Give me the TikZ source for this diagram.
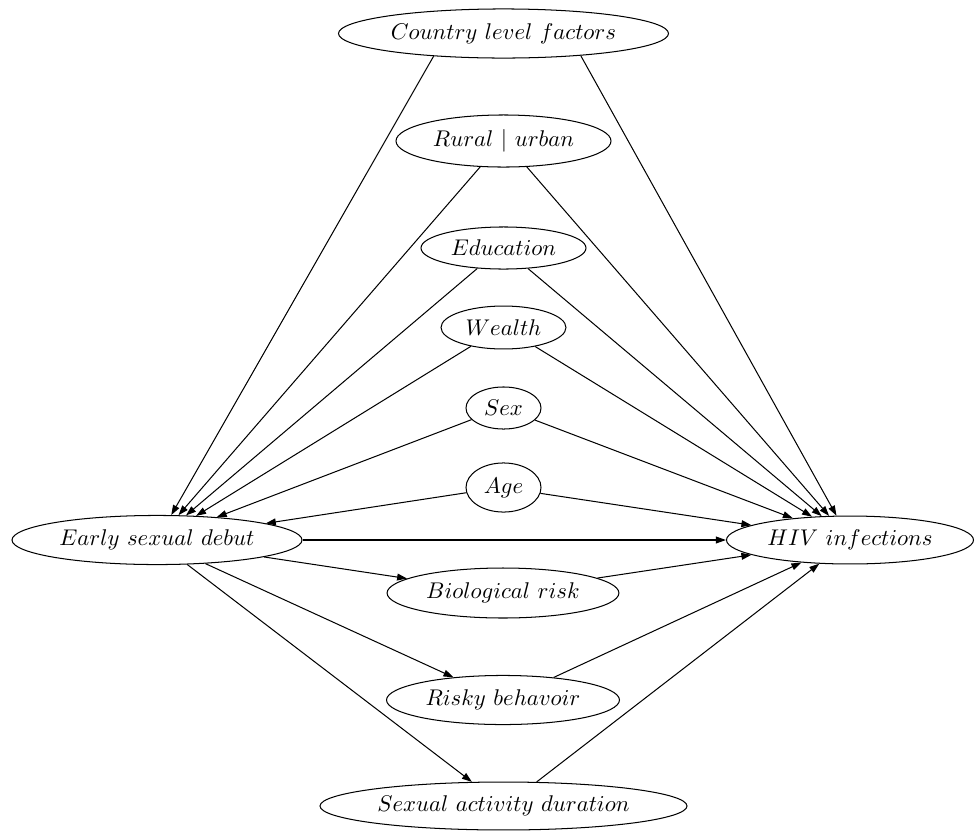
\documentclass[tikz,border=0pt]{standalone}
\usetikzlibrary{arrows.meta,shapes.geometric}
\begin{document}
\begin{tikzpicture}[x=0.44pt,y=-0.44pt,
  var/.style={draw,ellipse,inner sep=0pt,line width=0.45pt},
  edge/.style={-{Triangle[length=4.4pt,width=3pt]},line width=0.45pt}]
\useasboundingbox (0,0) rectangle (976,830);
\node[var,minimum width=145.2pt,minimum height=21.6pt] (country) at (503.5,33.5) {$Country\ level\ factors$};
\node[var,minimum width=94.6pt,minimum height=22.9pt] (rural) at (503.5,141) {$Rural\ |\ urban$};
\node[var,minimum width=72.6pt,minimum height=18.5pt] (edu) at (503.5,248) {$Education$};
\node[var,minimum width=55pt,minimum height=18.9pt] (wealth) at (503.5,327.5) {$Wealth$};
\node[var,minimum width=33pt,minimum height=18.5pt] (sex) at (503.5,408) {$Sex$};
\node[var,minimum width=33pt,minimum height=21.6pt] (age) at (503.5,487.5) {$Age$};
\node[var,minimum width=127.6pt,minimum height=21.6pt] (early) at (157,540) {$Early\ sexual\ debut$};
\node[var,minimum width=108.7pt,minimum height=21.1pt] (hiv) at (850,540) {$HIV\ infections$};
\node[var,minimum width=102pt,minimum height=22pt] (bio) at (503,593) {$Biological\ risk$};
\node[var,minimum width=102.5pt,minimum height=21.6pt] (risky) at (503,700) {$Risky\ behavoir$};
\node[var,minimum width=161.5pt,minimum height=21.1pt] (sexual) at (503.5,806) {$Sexual\ activity\ duration$};
% to early sexual debut
\draw[edge] (country.198.1) -- (early);
\draw[edge] (rural.228) -- (early);
\draw[edge] (edu.218.1) -- (early);
\draw[edge] (wealth.210.4) -- (early);
\draw[edge] (sex.200.9) -- (early);
\draw[edge] (age.188.3) -- (early);
% to HIV infections
\draw[edge] (country.344.1) -- (hiv);
\draw[edge] (rural.312) -- (hiv);
\draw[edge] (edu.320.8) -- (hiv);
\draw[edge] (wealth.329.6) -- (hiv);
\draw[edge] (sex.339.1) -- (hiv);
\draw[edge] (age.351.7) -- (hiv);
\draw[edge] (early) -- (hiv);
% mediators
\draw[edge] (early.351.1) -- (bio);
\draw[edge] (early.334.4) -- (risky);
\draw[edge] (early.321.1) -- (sexual);
\draw[edge] (bio.9.4) -- (hiv);
\draw[edge] (risky.24.7) -- (hiv);
\draw[edge] (sexual.36.8) -- (hiv);
\end{tikzpicture}
\end{document}
